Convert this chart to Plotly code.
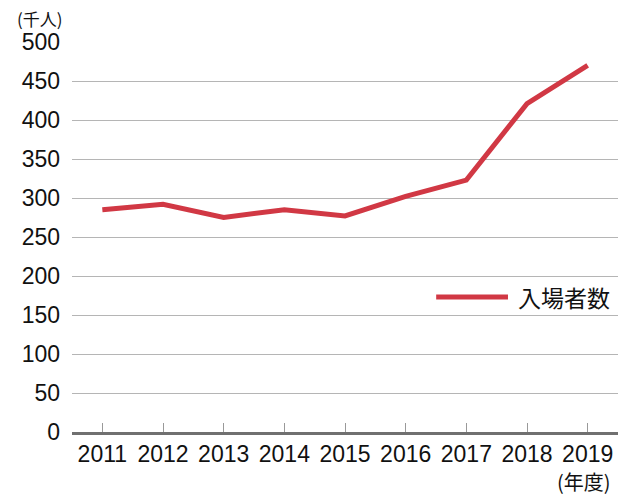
import plotly.graph_objects as go

years = ["2011", "2012", "2013", "2014", "2015", "2016", "2017", "2018", "2019"]
visitors = [285, 292, 275, 285, 277, 302, 323, 421, 470]
y_ticks = [0, 50, 100, 150, 200, 250, 300, 350, 400, 450, 500]
series_name = "入場者数"

FONT = "Liberation Sans, Arial, Noto Sans CJK JP, sans-serif"
LINE_COLOR = "#d13844"

fig = go.Figure()
fig.add_trace(go.Scatter(
    x=years, y=visitors, mode="lines", name=series_name,
    line=dict(color=LINE_COLOR, width=5), showlegend=False,
))

# legend sample (drawn to match the long line key of the reference)
fig.add_shape(type="line", xref="paper", yref="paper",
              x0=0.667, x1=0.7985, y0=0.346, y1=0.346,
              line=dict(color=LINE_COLOR, width=5))

fig.update_layout(
    width=632, height=488,
    margin=dict(l=64, r=22, t=34, b=64, autoexpand=False),
    plot_bgcolor="white", paper_bgcolor="white",
    font=dict(family=FONT, size=23, color="#111111"),
    xaxis=dict(
        type="category", range=[-0.5, 8.5],
        showline=True, linecolor="#707070", linewidth=2.5,
        ticks="inside", ticklen=9, tickcolor="#999999", tickwidth=1,
        showgrid=False, tickfont=dict(size=23),
    ),
    yaxis=dict(
        range=[0, 500], tickvals=y_ticks,
        showgrid=True, gridcolor="#b5b5b5", gridwidth=1,
        zeroline=False, showline=False, ticks="", ticklabelstandoff=11,
        tickfont=dict(size=23),
    ),
    annotations=[
        dict(text="入場者数", xref="paper", yref="paper", x=0.813, y=0.346,
             xanchor="left", yanchor="middle", showarrow=False,
             font=dict(size=23, family="Noto Sans CJK JP")),
        dict(text="(千人)", xref="paper", yref="paper", x=-0.104, y=1.059,
             xanchor="left", yanchor="middle", showarrow=False,
             font=dict(size=17, family="Noto Sans CJK JP")),
        dict(text="(年度)", xref="paper", yref="paper", x=0.99, y=-0.126,
             xanchor="right", yanchor="middle", showarrow=False,
             font=dict(size=20, family="Noto Sans CJK JP")),
    ],
)

fig.write_html("out.html")
